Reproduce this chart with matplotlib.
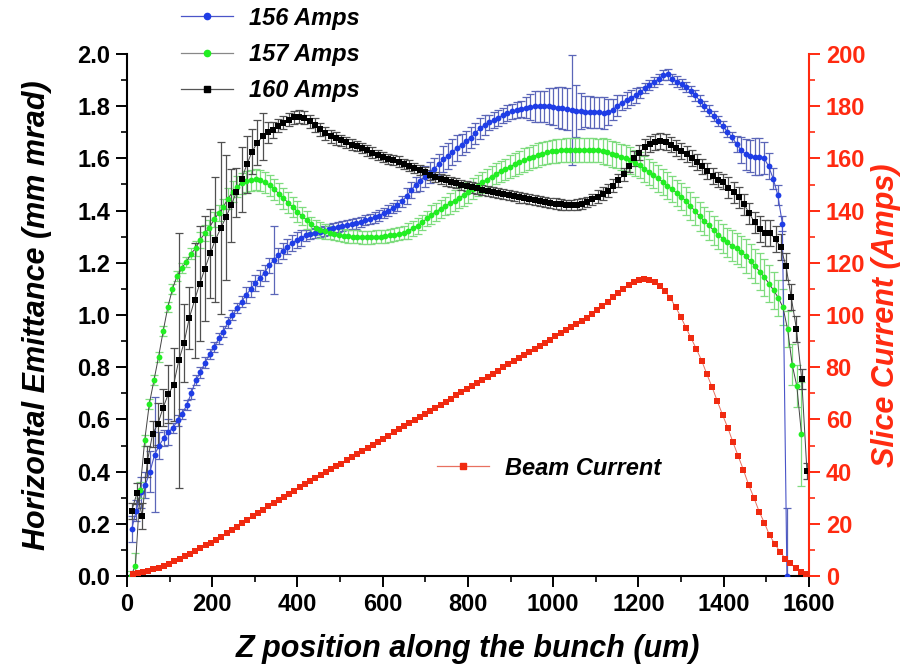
import numpy as np
import matplotlib
matplotlib.use("Agg")
import matplotlib.pyplot as plt
from matplotlib.lines import Line2D

# ---- emittance slices, 156 A ----
z156_range = (11, 1548.25)
emit156 = [0.18, 0.25, 0.32, 0.35, 0.40, 0.465, 0.50, 0.528, 0.552, 0.567,
           0.596, 0.62, 0.655, 0.70, 0.75, 0.78, 0.818, 0.85, 0.877, 0.91,
           0.936, 0.972, 0.999, 1.026, 1.051, 1.077, 1.10, 1.123, 1.141, 1.162,
           1.19, 1.21, 1.228, 1.246, 1.262, 1.275, 1.287, 1.295, 1.305, 1.311,
           1.315, 1.318, 1.322, 1.328, 1.333, 1.337, 1.341, 1.345, 1.348, 1.351,
           1.357, 1.363, 1.368, 1.374, 1.381, 1.39, 1.40, 1.41, 1.42, 1.435,
           1.455, 1.478, 1.50, 1.515, 1.53, 1.545, 1.56, 1.578, 1.596, 1.61,
           1.625, 1.639, 1.653, 1.666, 1.68, 1.697, 1.715, 1.728, 1.738, 1.747,
           1.756, 1.765, 1.773, 1.78, 1.785, 1.79, 1.795, 1.798, 1.80, 1.80,
           1.80, 1.80, 1.798, 1.795, 1.792, 1.788, 1.785, 1.783, 1.781, 1.779,
           1.778, 1.777, 1.776, 1.774, 1.777, 1.787, 1.802, 1.814, 1.824, 1.833,
           1.841, 1.853, 1.869, 1.882, 1.892, 1.905, 1.92, 1.922, 1.905, 1.894,
           1.884, 1.873, 1.859, 1.841, 1.821, 1.80, 1.783, 1.763, 1.743, 1.723,
           1.703, 1.682, 1.655, 1.632, 1.616, 1.609, 1.607, 1.607, 1.602, 1.57,
           1.522, 1.46, 1.35, 0.0]
err156 = [.05, .04, .06, .05, .08, .22, .05, .03, .05, .02,
          .02, .02, .02, .02, .02, .02, .02, .02, .02, .02,
          .02, .02, .02, .02, .02, .03, .03, .03, .03, .03,
          .03, .13, .03, .03, .03, .03, .03, .03, .02, .02,
          .02, .02, .02, .02, .02, .02, .02, .02, .02, .02,
          .02, .02, .02, .02, .02, .02, .02, .02, .02, .02,
          .03, .03, .03, .04, .04, .04, .04, .04, .05, .05,
          .05, .05, .04, .04, .04, .04, .04, .04, .03, .03,
          .03, .03, .03, .03, .03, .03, .04, .05, .06, .06,
          .06, .07, .07, .08, .08, .08, .21, .10, .07, .06,
          .06, .06, .06, .06, .05, .04, .04, .03, .03, .03,
          .03, .02, .02, .02, .02, .02, .02, .02, .02, .02,
          .02, .02, .02, .02, .02, .02, .02, .02, .02, .02,
          .02, .02, .03, .05, .06, .06, .07, .07, .06, .05,
          .04, .04, .03, .26]

# ---- emittance slices, 157 A ----
z157_range = (9, 1582.25)
emit157 = [0.0, 0.04, 0.33, 0.52, 0.66, 0.75, 0.84, 0.939, 1.03, 1.10,
           1.15, 1.18, 1.203, 1.235, 1.255, 1.288, 1.313, 1.335, 1.366, 1.39,
           1.415, 1.445, 1.472, 1.491, 1.505, 1.513, 1.517, 1.52, 1.516, 1.508,
           1.497, 1.482, 1.465, 1.448, 1.43, 1.414, 1.396, 1.38, 1.364, 1.347,
           1.335, 1.326, 1.32, 1.315, 1.311, 1.307, 1.304, 1.302, 1.30, 1.299,
           1.298, 1.297, 1.298, 1.299, 1.30, 1.302, 1.305, 1.307, 1.311, 1.316,
           1.323, 1.332, 1.342, 1.355, 1.37, 1.385, 1.396, 1.407, 1.417, 1.428,
           1.438, 1.449, 1.459, 1.47, 1.483, 1.496, 1.508, 1.519, 1.53, 1.541,
           1.55, 1.559, 1.568, 1.577, 1.585, 1.593, 1.60, 1.607, 1.613, 1.618,
           1.623, 1.627, 1.629, 1.631, 1.632, 1.633, 1.633, 1.633, 1.633, 1.633,
           1.632, 1.631, 1.628, 1.623, 1.618, 1.613, 1.607, 1.60, 1.592, 1.584,
           1.573, 1.561, 1.548, 1.535, 1.523, 1.51, 1.496, 1.482, 1.468, 1.454,
           1.437, 1.418, 1.398, 1.378, 1.36, 1.343, 1.325, 1.308, 1.293, 1.279,
           1.265, 1.255, 1.243, 1.225, 1.206, 1.186, 1.166, 1.144, 1.12, 1.094,
           1.066, 1.03, 0.946, 0.81, 0.728, 0.545]
err157 = [.02, .05, .03, .02, .02, .02, .02, .02, .02, .02,
          .02, .02, .02, .02, .03, .03, .03, .03, .03, .03,
          .03, .04, .04, .04, .04, .04, .04, .04, .04, .04,
          .04, .04, .04, .04, .04, .04, .04, .035, .035, .03,
          .03, .03, .03, .025, .025, .025, .025, .025, .025, .025,
          .025, .025, .025, .025, .025, .025, .025, .025, .025, .025,
          .03, .03, .03, .03, .03, .035, .035, .035, .035, .04,
          .04, .04, .04, .04, .04, .04, .04, .04, .04, .04,
          .04, .04, .045, .045, .045, .045, .045, .045, .045, .045,
          .045, .045, .045, .045, .045, .045, .045, .045, .045, .045,
          .045, .045, .05, .05, .05, .05, .05, .05, .05, .05,
          .05, .05, .05, .05, .05, .05, .05, .05, .05, .05,
          .055, .055, .055, .055, .055, .055, .055, .055, .055, .055,
          .06, .06, .06, .065, .065, .065, .07, .07, .07, .07,
          .07, .07, .07, .08, .08, .20]

# ---- emittance slices, 160 A ----
z160_range = (11, 1595.12)
emit160 = [0.25, 0.317, 0.23, 0.44, 0.545, 0.582, 0.645, 0.697, 0.732, 0.826,
           0.893, 0.988, 1.056, 1.12, 1.178, 1.236, 1.289, 1.332, 1.374, 1.421,
           1.47, 1.52, 1.577, 1.626, 1.66, 1.684, 1.70, 1.709, 1.726, 1.737,
           1.749, 1.757, 1.76, 1.755, 1.742, 1.728, 1.711, 1.696, 1.685, 1.677,
           1.669, 1.661, 1.653, 1.647, 1.64, 1.631, 1.622, 1.613, 1.605, 1.598,
           1.593, 1.588, 1.579, 1.572, 1.564, 1.556, 1.546, 1.536, 1.528, 1.522,
           1.516, 1.51, 1.505, 1.499, 1.494, 1.489, 1.485, 1.48, 1.476, 1.472,
           1.467, 1.463, 1.459, 1.455, 1.451, 1.448, 1.444, 1.44, 1.437, 1.433,
           1.43, 1.427, 1.424, 1.421, 1.421, 1.423, 1.427, 1.434, 1.443, 1.454,
           1.465, 1.476, 1.496, 1.517, 1.539, 1.572, 1.60, 1.622, 1.644, 1.656,
           1.664, 1.667, 1.664, 1.653, 1.641, 1.629, 1.617, 1.602, 1.586, 1.569,
           1.552, 1.532, 1.519, 1.511, 1.487, 1.47, 1.451, 1.424, 1.389, 1.355,
           1.331, 1.315, 1.313, 1.29, 1.26, 1.186, 1.068, 0.946, 0.755, 0.403]
err160 = [.03, .04, .05, .06, .05, .08, .07, .11, .14, .49,
          .15, .12, .22, .22, .20, .17, .24, .33, .24, .14,
          .095, .125, .11, .087, .086, .09, .04, .03, .025, .025,
          .025, .025, .025, .025, .025, .025, .025, .025, .025, .025,
          .02, .02, .02, .02, .02, .02, .02, .02, .02, .02,
          .02, .02, .02, .02, .02, .02, .02, .02, .02, .02,
          .02, .02, .02, .02, .02, .02, .02, .02, .02, .02,
          .02, .02, .02, .02, .02, .02, .02, .02, .02, .02,
          .02, .02, .02, .02, .02, .02, .02, .02, .02, .025,
          .025, .025, .025, .025, .025, .025, .03, .03, .03, .03,
          .03, .03, .03, .03, .03, .03, .03, .03, .03, .03,
          .03, .03, .03, .03, .04, .04, .04, .04, .04, .04,
          .05, .05, .05, .05, .05, .05, .05, .05, .04, .03]

# ---- slice current (right axis) ----
zcur_range = (13, 1593.25)
beam_current = [0.6, 1.0, 1.4, 1.9, 2.5, 3.1, 3.8, 4.7, 5.6, 6.5,
                7.5, 8.5, 9.6, 10.6, 11.7, 12.8, 13.9, 15.1, 16.3, 17.6,
                18.9, 20.2, 21.5, 22.8, 24.1, 25.4, 26.7, 27.9, 29.1, 30.3,
                31.5, 32.7, 34.0, 35.2, 36.4, 37.5, 38.6, 39.7, 40.9, 42.0,
                43.1, 44.3, 45.5, 46.7, 47.8, 49.0, 50.2, 51.4, 52.6, 53.8,
                55.0, 56.2, 57.4, 58.6, 59.7, 60.9, 62.1, 63.3, 64.4, 65.6,
                66.8, 68.0, 69.2, 70.4, 71.6, 72.8, 74.0, 75.2, 76.3, 77.5,
                78.7, 79.9, 81.1, 82.3, 83.5, 84.7, 85.9, 87.0, 88.2, 89.4,
                90.6, 91.8, 93.0, 94.2, 95.4, 96.6, 97.7, 98.8, 100.3, 101.8,
                103.3, 105.0, 106.8, 108.4, 110.0, 111.5, 112.8, 113.6, 113.8, 113.5,
                112.6, 111.1, 109.1, 106.4, 103.1, 99.3, 95.1, 91.0, 86.9, 82.5,
                77.3, 72.3, 67.0, 61.7, 56.8, 51.2, 45.9, 40.6, 34.9, 30.0,
                24.7, 20.4, 15.6, 12.3, 9.3, 6.7, 4.9, 2.9, 1.5, 0.8]

series_labels = ["156 Amps", "157 Amps", "160 Amps"]
current_label = "Beam Current"

x_ticks = [0, 200, 400, 600, 800, 1000, 1200, 1400, 1600]
y_ticks = [0.0, 0.2, 0.4, 0.6, 0.8, 1.0, 1.2, 1.4, 1.6, 1.8, 2.0]
y2_ticks = [0, 20, 40, 60, 80, 100, 120, 140, 160, 180, 200]


def grid(rng, n):
    return np.linspace(rng[0], rng[1], n)


FONT = ["Liberation Sans", "DejaVu Sans"]
plt.rcParams["font.family"] = FONT
plt.rcParams["font.weight"] = "bold"

BLUE = "#1f3de6"
BLUE_ERR = "#5b66b8"
BLUE_LINE = "#4a55c8"
GREEN = "#22ee22"
GREEN_ERR = "#7fdc7f"
BLACK = "#000000"
BLACK_ERR = "#505050"
RED = "#f02a10"
RED_AX = "#ff2a10"
CONNECT = "#444444"

fig = plt.figure(figsize=(9.12, 6.69), dpi=100)
ax = fig.add_axes([127 / 912, 93 / 669, 682 / 912, 522 / 669])
ax2 = ax.twinx()

z156 = grid(z156_range, len(emit156))
z157 = grid(z157_range, len(emit157))
z160 = grid(z160_range, len(emit160))
zcur = grid(zcur_range, len(beam_current))

ms = 4.2
# 156 A
ax.errorbar(z156, emit156, yerr=err156, fmt="none", ecolor=BLUE_ERR,
            elinewidth=0.9, capsize=2.6, capthick=0.9, zorder=2)
ax.plot(z156, emit156, "-", color=BLUE_LINE, lw=0.8, zorder=3)
ax.plot(z156, emit156, "o", ls="none", color=BLUE, ms=ms, mew=0, zorder=4)
# 157 A
ax.errorbar(z157, emit157, yerr=err157, fmt="none", ecolor=GREEN_ERR,
            elinewidth=0.9, capsize=2.6, capthick=0.9, zorder=2)
ax.plot(z157, emit157, "-", color=CONNECT, lw=0.7, zorder=3)
ax.plot(z157, emit157, "o", ls="none", color=GREEN, ms=ms, mew=0, zorder=4)
# 160 A
ax.errorbar(z160, emit160, yerr=err160, fmt="none", ecolor=BLACK_ERR,
            elinewidth=0.9, capsize=2.6, capthick=0.9, zorder=2)
ax.plot(z160, emit160, "-", color=CONNECT, lw=0.7, zorder=3)
ax.plot(z160, emit160, "s", ls="none", color=BLACK, ms=ms - 0.3, mew=0, zorder=5)

# slice current
ax2.plot(zcur, beam_current, "-", color="#e87060", lw=0.7, zorder=3)
ax2.plot(zcur, beam_current, "s", ls="none", color=RED, ms=ms, mew=0, zorder=4)

# axes limits and ticks
ax.set_xlim(0, 1600)
ax.set_ylim(0, 2.0)
ax2.set_ylim(0, 200)
ax.set_xticks(x_ticks)
ax.set_xticks(np.arange(100, 1600, 200), minor=True)
ax.set_yticks(y_ticks)
ax.set_yticks(np.arange(0.1, 2.0, 0.2), minor=True)
ax2.set_yticks(y2_ticks)
ax2.set_yticks(np.arange(10, 200, 20), minor=True)
ax.set_yticklabels([f"{v:.1f}" for v in y_ticks])
ax.set_xticklabels([str(v) for v in x_ticks])
ax2.set_yticklabels([str(v) for v in y2_ticks])

tick_fs = 17
ax.tick_params(axis="both", which="major", direction="out", length=8, width=1.4,
               labelsize=tick_fs, colors="black", pad=4)
ax.tick_params(axis="both", which="minor", direction="out", length=4.5, width=1.2)
ax2.tick_params(axis="y", which="major", direction="out", length=8, width=1.4,
                labelsize=tick_fs, colors=RED_AX, pad=4)
ax2.tick_params(axis="y", which="minor", direction="out", length=4.5, width=1.2,
                colors=RED_AX)
for lab in ax.get_xticklabels() + ax.get_yticklabels():
    lab.set_fontweight("bold")
for lab in ax2.get_yticklabels():
    lab.set_fontweight("bold")

for a in (ax, ax2):
    a.spines["top"].set_visible(False)
ax.spines["right"].set_visible(False)
ax2.spines["left"].set_visible(False)
ax2.spines["bottom"].set_visible(False)
ax.spines["left"].set_linewidth(1.5)
ax.spines["bottom"].set_linewidth(1.5)
ax2.spines["right"].set_linewidth(1.5)
ax2.spines["right"].set_color(RED_AX)

label_fs = 22
ax.set_xlabel("Z position along the bunch (um)", fontsize=label_fs,
              fontweight="bold", fontstyle="italic", labelpad=13)
ax.set_ylabel("Horizontal Emittance (mm mrad)", fontsize=label_fs,
              fontweight="bold", fontstyle="italic", labelpad=18)
ax2.set_ylabel("Slice Current (Amps)", fontsize=label_fs, fontweight="bold",
               fontstyle="italic", color=RED_AX, labelpad=4)

# legends
leg_font = {"size": 17, "weight": "bold", "style": "italic"}
handles = [
    Line2D([], [], color=BLUE_LINE, lw=0.9, marker="o", ms=4.5, mfc=BLUE, mec=BLUE),
    Line2D([], [], color="#888888", lw=0.9, marker="o", ms=4.5, mfc=GREEN, mec=GREEN),
    Line2D([], [], color="#555555", lw=0.9, marker="s", ms=4.2, mfc=BLACK, mec=BLACK),
]
fig.legend(handles, series_labels, loc="upper left",
           bbox_to_anchor=(176 / 912, 1 - 2 / 669), frameon=False, prop=leg_font,
           handlelength=2.2, handletextpad=0.7, labelspacing=0.56,
           borderaxespad=0, borderpad=0.2)
h_cur = [Line2D([], [], color="#e87060", lw=0.9, marker="s", ms=4.2,
                mfc=RED, mec=RED)]
fig.legend(h_cur, [current_label], loc="upper left",
           bbox_to_anchor=(432 / 912, 1 - 452 / 669), frameon=False, prop=leg_font,
           handlelength=2.2, handletextpad=0.7, borderaxespad=0, borderpad=0.2)

fig.savefig("out.png", dpi=100)
